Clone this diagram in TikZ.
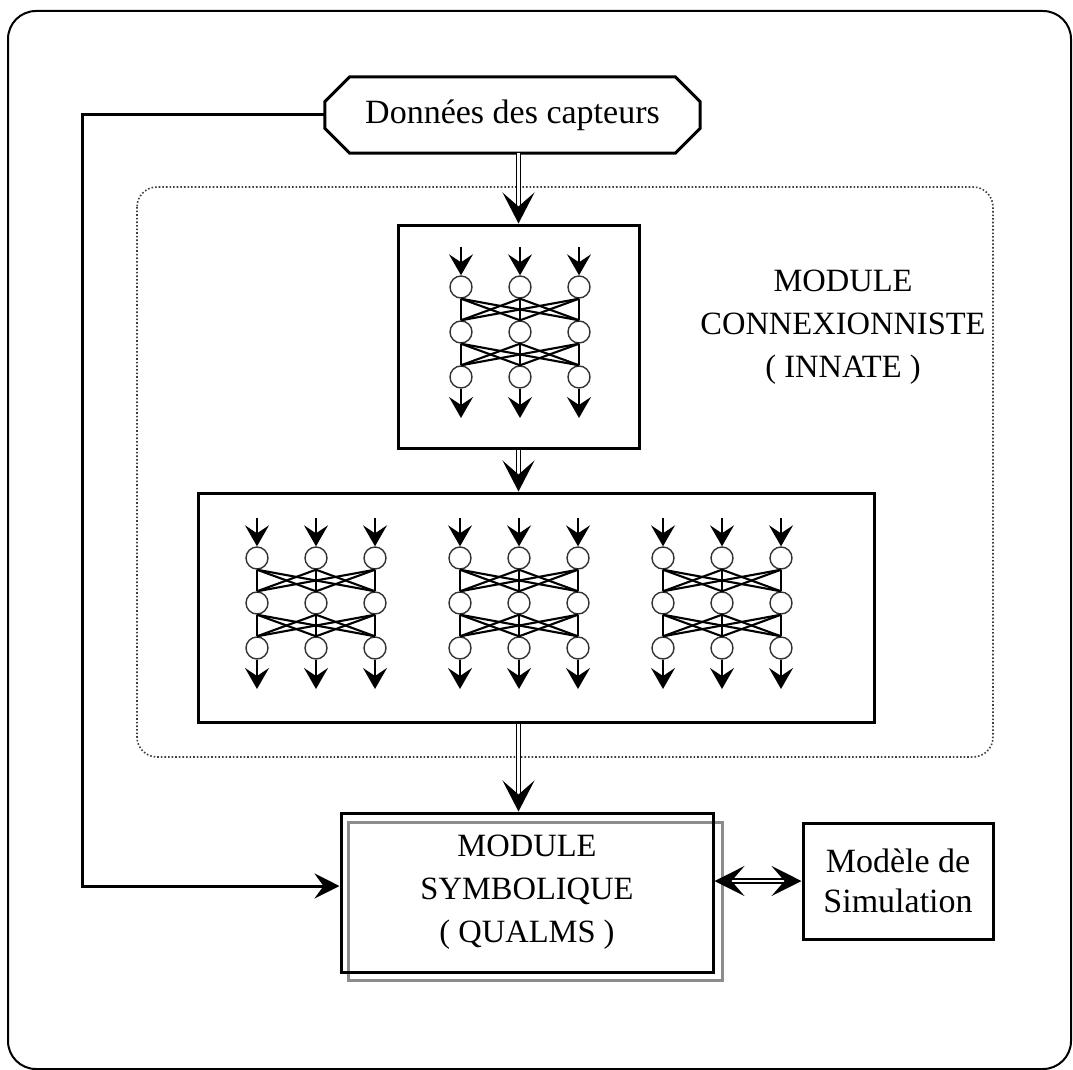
\documentclass[tikz,border=0pt]{standalone}
\usepackage{fontspec}
\setmainfont{Liberation Serif}
\usetikzlibrary{arrows.meta}

\tikzset{
  frame/.style={line width=2pt, rounded corners=28pt},
  box/.style={draw, line width=3pt, rectangle, inner sep=0pt},
  zone/.style={line width=1.6pt, draw=black!75, dash pattern=on 1.6pt off 2pt, rounded corners=20pt},
  neuron/.style={circle, draw=black!80, line width=1.4pt, minimum size=22pt, inner sep=0pt, fill=white},
  synapse/.style={line width=2.1pt},
  netarrow/.style={line width=2pt, -{Stealth[length=21pt,width=24pt,inset=8pt]}},
  dblarrow/.style={double, double distance=2.2pt, line width=1.6pt, -{Stealth[length=31pt,width=32pt,inset=14pt]}},
  dblboth/.style={double, double distance=2.2pt, line width=1.6pt, {Stealth[length=30pt,width=30pt,inset=13pt]}-{Stealth[length=30pt,width=30pt,inset=13pt]}},
  feed/.style={line width=3pt, -{Stealth[length=25pt,width=25pt,inset=9pt]}},
  caps/.style={font=\fontsize{32.5}{43}\selectfont, align=center},
  txt/.style={font=\fontsize{34}{40}\selectfont, align=center},
}

% a three-layer network: #1 name prefix, #2 x of first column, #3 y of first row
\newcommand\neuralnet[3]{%
  \foreach \ii in {1,2,3}{
    \foreach \jj in {1,2,3}{
      \node[neuron] (#1-\ii\jj) at ({#2+59*(\jj-1)},{#3+45*(\ii-1)}) {};
    }
  }
  \foreach \jj in {1,2,3}{
    \coordinate (#1-in\jj) at ({#2+59*(\jj-1)},{#3-40});
    \coordinate (#1-out\jj) at ({#2+59*(\jj-1)},{#3+131});
    \draw[netarrow] (#1-in\jj) -- (#1-1\jj);
    \draw[netarrow] (#1-3\jj) -- (#1-out\jj);
  }
  \foreach \ii/\kk in {1/2,2/3}{
    \foreach \aa in {1,2,3}{
      \foreach \bb in {1,2,3}{
        \draw[synapse] (#1-\ii\aa.south) -- (#1-\kk\bb.north);
      }
    }
  }
}

\begin{document}
\begin{tikzpicture}[x=1pt, y=-1pt]
  \useasboundingbox (0,0) rectangle (1073,1070);

  % outer frame
  \draw[frame] (8,11) rectangle (1071,1069);

  % connectionist zone
  \draw[zone] (137,187) rectangle (993,757);
  \node[caps] (conlabel) at (843,327) {MODULE\\CONNEXIONNISTE\\( INNATE )};

  % sensor data
  \node[txt, minimum width=375pt, minimum height=76pt, inner sep=0pt] (oct) at (512.5,115) {Données des capteurs};
  \draw[line width=3pt]
    ([xshift=25pt]oct.north west) -- ([xshift=-25pt]oct.north east)
    -- ([yshift=-25pt]oct.north east) -- ([yshift=25pt]oct.south east)
    -- ([xshift=-25pt]oct.south east) -- ([xshift=25pt]oct.south west)
    -- ([yshift=25pt]oct.south west) -- ([yshift=-25pt]oct.north west) -- cycle;

  % first network block
  \node[box, minimum width=241pt, minimum height=223pt] (top) at (518.5,336.5) {};
  \neuralnet{na}{461}{287}

  % second block with three networks
  \node[box, minimum width=676pt, minimum height=229pt] (mid) at (536,607.5) {};
  \neuralnet{nb}{257}{558}
  \neuralnet{nc}{460}{558}
  \neuralnet{nd}{663}{558}

  % symbolic module
  \node[draw=black!45, line width=3pt, rectangle, minimum width=374pt, minimum height=158pt] (symshadow) at (535,901) {};
  \node[box, caps, minimum width=372pt, minimum height=159pt] (sym) at (527,892.5) {MODULE\\SYMBOLIQUE\\( QUALMS )};

  % simulation model
  \node[box, txt, minimum width=190pt, minimum height=116pt] (sim) at (898,881) {Modèle de\\Simulation};

  % connectors
  \draw[dblarrow] (oct.south -| top.north) -- (top.north);
  \draw[dblarrow] (top.south) -- (top.south |- mid.north);
  \draw[dblarrow] (top.south |- mid.south) -- (top.south |- sym.north);
  \draw[dblboth] (sym.east |- sim.west) -- (sim.west);

  \coordinate (fb) at (82,886);
  \draw[feed] (oct.west) -| (fb) -- (fb -| sym.west);
\end{tikzpicture}
\end{document}
